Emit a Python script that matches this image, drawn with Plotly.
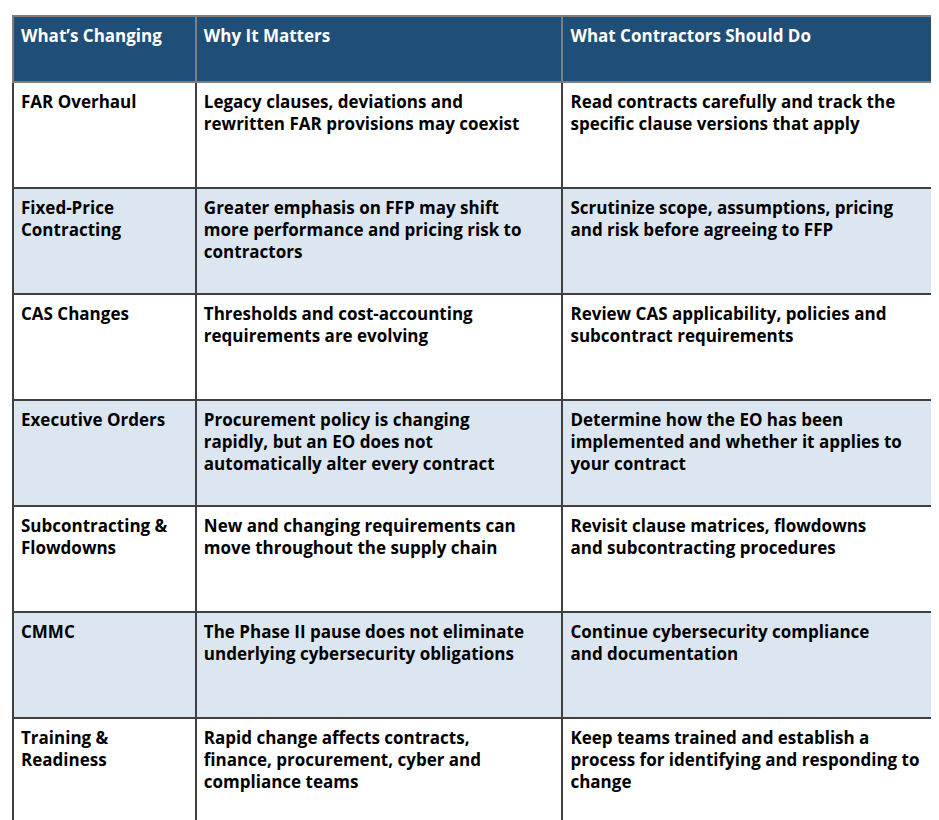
import plotly.graph_objects as go

headers = ["What’s Changing", "Why It Matters", "What Contractors Should Do"]
col1 = ["FAR Overhaul", "Fixed-Price<br>Contracting", "CAS Changes", "Executive Orders",
        "Subcontracting &<br>Flowdowns", "CMMC", "Training &<br>Readiness"]
col2 = ["Legacy clauses, deviations and<br>rewritten FAR provisions may coexist",
        "Greater emphasis on FFP may shift<br>more performance and pricing risk to<br>contractors",
        "Thresholds and cost-accounting<br>requirements are evolving",
        "Procurement policy is changing<br>rapidly, but an EO does not<br>automatically alter every contract",
        "New and changing requirements can<br>move throughout the supply chain",
        "The Phase II pause does not eliminate<br>underlying cybersecurity obligations",
        "Rapid change affects contracts,<br>finance, procurement, cyber and<br>compliance teams"]
col3 = ["Read contracts carefully and track the<br>specific clause versions that apply",
        "Scrutinize scope, assumptions, pricing<br>and risk before agreeing to FFP",
        "Review CAS applicability, policies and<br>subcontract requirements",
        "Determine how the EO has been<br>implemented and whether it applies to<br>your contract",
        "Revisit clause matrices, flowdowns<br>and subcontracting procedures",
        "Continue cybersecurity compliance<br>and documentation",
        "Keep teams trained and establish a<br>process for identifying and responding to<br>change"]

row_fill = ["#FFFFFF" if i % 2 == 0 else "#DCE6F0" for i in range(len(col1))]

fig = go.Figure(go.Table(
    columnwidth=[184, 369, 379],
    header=dict(values=["<b>%s</b>" % h for h in headers],
                fill_color="#1F4E79", line=dict(color="#7F7F7F", width=2),
                font=dict(family="Open Sans", size=17, color="white"),
                align="left", height=66),
    cells=dict(values=[["<b>%s</b>" % v for v in c] for c in (col1, col2, col3)],
               fill_color=[row_fill] * 3, line=dict(color="#404040", width=2),
               font=dict(family="Open Sans", size=17, color="black"),
               align="left", height=106),
))
fig.update_layout(width=939, height=820, margin=dict(l=5, r=8, t=8, b=2),
                  paper_bgcolor="white")
fig.write_html("out.html")
